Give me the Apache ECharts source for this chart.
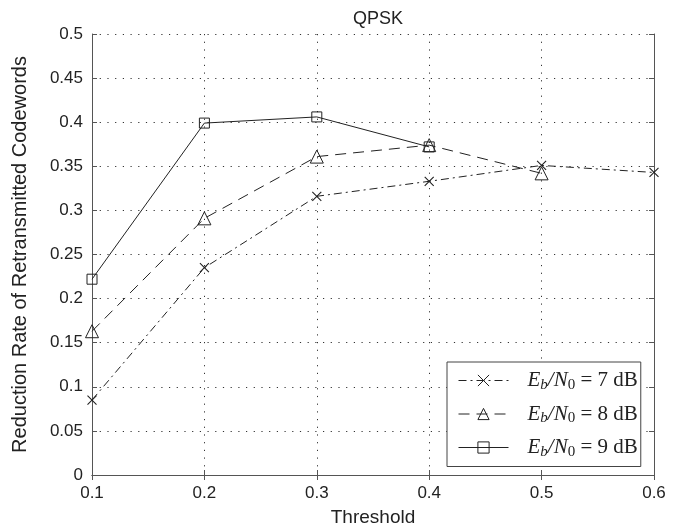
<!DOCTYPE html>
<html>
<head>
<meta charset="utf-8">
<script src="https://cdn.jsdelivr.net/npm/echarts@6/dist/echarts.min.js"></script>
<style>html,body{margin:0;padding:0;background:#fff}#c{width:679px;height:532px}</style>
</head>
<body>
<div id="c"></div>
<script>
const thresholds = [0.1, 0.2, 0.3, 0.4, 0.5, 0.6];
const eb7 = [0.085, 0.235, 0.316, 0.333, 0.351, 0.343];
const eb8 = [0.163, 0.291, 0.361, 0.374, 0.342];
const eb9 = [0.222, 0.399, 0.406, 0.372];
const seriesNames = ['7', '8', '9'];
const titleText = 'QPSK';
const xName = 'Threshold';
const yName = 'Reduction Rate of Retransmitted Codewords';

const ink = '#222';
const pairs = (vals) => vals.map((v, i) => [thresholds[i], v]);
const xPath = 'path://M0,0L10,10M10,0L0,10';

const chart = echarts.init(document.getElementById('c'));
const axisCommon = {
  axisLine: {show: true, lineStyle: {color: '#555', width: 1}},
  axisTick: {show: true, inside: true, length: 5, lineStyle: {color: '#555'}},
};
chart.setOption({
  animation: false,
  backgroundColor: '#fff',
  title: {
    text: titleText, left: 373, top: 5, textAlign: 'center',
    textStyle: {fontFamily: 'Liberation Sans', fontSize: 18, fontWeight: 'normal', color: ink}
  },
  grid: {left: 92, right: 25, top: 34, bottom: 56},
  legend: {
    orient: 'vertical', left: 447, top: 362,
    padding: [8, 3, 7, 11],
    itemWidth: 50, itemHeight: 14, itemGap: 11,
    backgroundColor: '#fff', borderColor: '#444', borderWidth: 1,
    itemStyle: {borderWidth: 1},
    lineStyle: {width: 1},
    data: seriesNames.map(n => 'E' + n),
    formatter: (name) => '{i|E}{s|b}{i|/N}{z|0}{n| = ' + name.slice(1) + ' dB}',
    textStyle: {
      color: ink, padding: [0, 0, 0, 14],
      rich: {
        i: {fontFamily: 'Liberation Serif', fontStyle: 'italic', fontSize: 21, color: ink, lineHeight: 24, verticalAlign: 'middle'},
        s: {fontFamily: 'Liberation Serif', fontStyle: 'italic', fontSize: 15, color: ink, lineHeight: 14, verticalAlign: 'bottom'},
        z: {fontFamily: 'Liberation Serif', fontSize: 15, color: ink, lineHeight: 14, verticalAlign: 'bottom'},
        n: {fontFamily: 'Liberation Serif', fontSize: 21, color: ink, lineHeight: 24, verticalAlign: 'middle'}
      }
    }
  },
  xAxis: [
    Object.assign({
      type: 'value', min: 0.1, max: 0.6, interval: 0.1,
      name: xName, nameLocation: 'middle', nameGap: 33,
      nameTextStyle: {fontFamily: 'Liberation Sans', fontSize: 19, color: ink},
      axisLabel: {fontFamily: 'Liberation Sans', fontSize: 17, color: ink, margin: 10,
        formatter: v => v.toFixed(1)},
      splitLine: {show: true, lineStyle: {color: '#333', type: [1.2, 6.5], width: 1}}
    }, axisCommon),
    Object.assign({
      type: 'value', min: 0.1, max: 0.6, interval: 0.1, position: 'top',
      axisLabel: {show: false}, splitLine: {show: false}
    }, axisCommon)
  ],
  yAxis: [
    Object.assign({
      type: 'value', min: 0, max: 0.5, interval: 0.05,
      name: yName, nameLocation: 'middle', nameGap: 62,
      nameTextStyle: {fontFamily: 'Liberation Sans', fontSize: 20, color: ink},
      axisLabel: {fontFamily: 'Liberation Sans', fontSize: 17, color: ink, margin: 9,
        formatter: v => String(parseFloat(v.toFixed(2)))},
      splitLine: {show: true, lineStyle: {color: '#333', type: [1.2, 6.5], width: 1}}
    }, axisCommon),
    Object.assign({
      type: 'value', min: 0, max: 0.5, interval: 0.05, position: 'right',
      axisLabel: {show: false}, splitLine: {show: false}
    }, axisCommon)
  ],
  series: [
    {
      name: 'E7', type: 'line', data: pairs(eb7),
      symbol: xPath, symbolSize: 9,
      lineStyle: {color: ink, width: 1, type: [8, 4, 2, 4]},
      itemStyle: {color: 'none', borderColor: ink, borderWidth: 1.1}
    },
    {
      name: 'E8', type: 'line', data: pairs(eb8),
      symbol: 'triangle', symbolSize: 13,
      lineStyle: {color: ink, width: 1, type: [11, 7]},
      itemStyle: {color: 'none', borderColor: ink, borderWidth: 1}
    },
    {
      name: 'E9', type: 'line', data: pairs(eb9),
      symbol: 'rect', symbolSize: 10,
      lineStyle: {color: ink, width: 1},
      itemStyle: {color: 'none', borderColor: ink, borderWidth: 1}
    }
  ]
});
</script>
</body>
</html>
